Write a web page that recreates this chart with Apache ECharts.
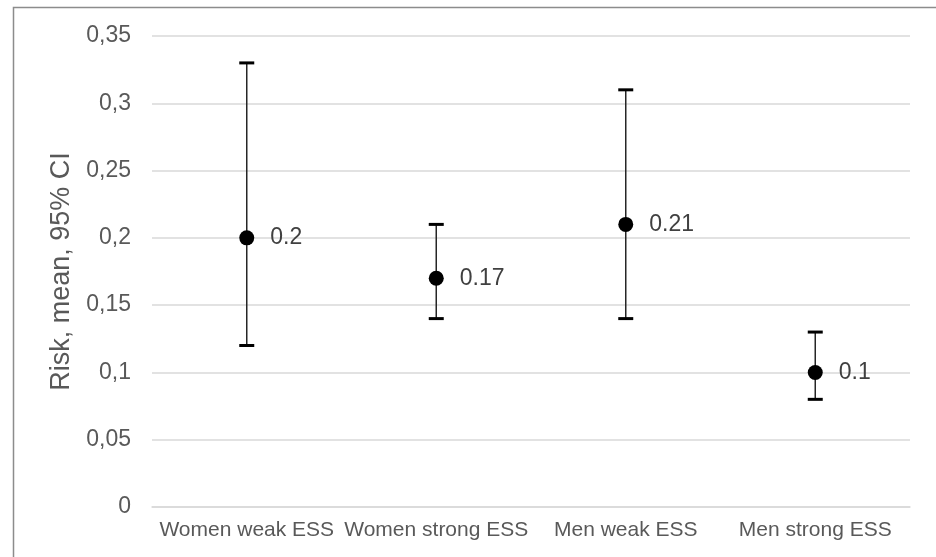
<!DOCTYPE html>
<html>
<head>
<meta charset="utf-8">
<script src="https://cdn.jsdelivr.net/npm/echarts@6/dist/echarts.min.js"></script>
<style>
html,body{margin:0;padding:0;background:#fff;}
#chart{width:936px;height:557px;}
</style>
</head>
<body>
<div id="chart"></div>
<script>
const categories = ['Women weak ESS', 'Women strong ESS', 'Men weak ESS', 'Men strong ESS'];
const means = [0.2, 0.17, 0.21, 0.1];
const lower = [0.12, 0.14, 0.14, 0.08];
const upper = [0.33, 0.21, 0.31, 0.13];
const meanLabels = ['0.2', '0.17', '0.21', '0.1'];

const FONT = '"Liberation Sans", Arial, sans-serif';
const errData = categories.map((c, i) => [i, lower[i], upper[i]]);
const ptData = categories.map((c, i) => [i, means[i]]);

const chart = echarts.init(document.getElementById('chart'));
chart.setOption({
  animation: false,
  backgroundColor: '#fff',
  grid: { left: 152, right: 26, top: 36, bottom: 50 },
  graphic: [{
    type: 'rect', z: 100, silent: true,
    shape: { x: 13.5, y: 7.5, width: 960, height: 620 },
    style: { fill: 'none', stroke: '#8c8c8c', lineWidth: 1.5 }
  }],
  xAxis: {
    type: 'category',
    data: categories,
    axisLine: { show: true, lineStyle: { color: '#d9d9d9', width: 1.5 } },
    axisTick: { show: false },
    axisLabel: { color: '#595959', fontSize: 21, fontFamily: FONT, margin: 13, interval: 0 },
    splitLine: { show: false }
  },
  yAxis: {
    type: 'value',
    min: 0, max: 0.35, interval: 0.05,
    name: 'Risk, mean, 95% CI',
    nameLocation: 'middle',
    nameGap: 71,
    nameTextStyle: { color: '#595959', fontSize: 27, fontFamily: FONT },
    axisLine: { show: false },
    axisTick: { show: false },
    axisLabel: {
      color: '#595959', fontSize: 23, fontFamily: FONT, margin: 21,
      formatter: v => String(Math.round(v * 100) / 100).replace('.', ',')
    },
    splitLine: { lineStyle: { color: '#d9d9d9', width: 1.5 } }
  },
  series: [
    {
      type: 'custom',
      data: errData,
      z: 5,
      renderItem: function (params, api) {
        const x = api.value(0);
        const lo = api.coord([x, api.value(1)]);
        const hi = api.coord([x, api.value(2)]);
        const hw = 7.5;
        return {
          type: 'group',
          children: [
            { type: 'line', shape: { x1: lo[0], y1: lo[1], x2: hi[0], y2: hi[1] },
              style: { stroke: '#262626', lineWidth: 1.5 } },
            { type: 'line', shape: { x1: lo[0] - hw, y1: lo[1], x2: lo[0] + hw, y2: lo[1] },
              style: { stroke: '#000', lineWidth: 3 } },
            { type: 'line', shape: { x1: hi[0] - hw, y1: hi[1], x2: hi[0] + hw, y2: hi[1] },
              style: { stroke: '#000', lineWidth: 3 } }
          ]
        };
      }
    },
    {
      type: 'scatter',
      data: ptData,
      z: 10,
      symbol: 'circle',
      symbolSize: 15,
      itemStyle: { color: '#000', opacity: 1 },
      emphasis: { disabled: true },
      label: {
        show: true,
        position: 'right',
        distance: 16,
        color: '#404040',
        fontSize: 23,
        fontFamily: FONT,
        formatter: p => meanLabels[p.dataIndex]
      }
    }
  ]
});
</script>
</body>
</html>
